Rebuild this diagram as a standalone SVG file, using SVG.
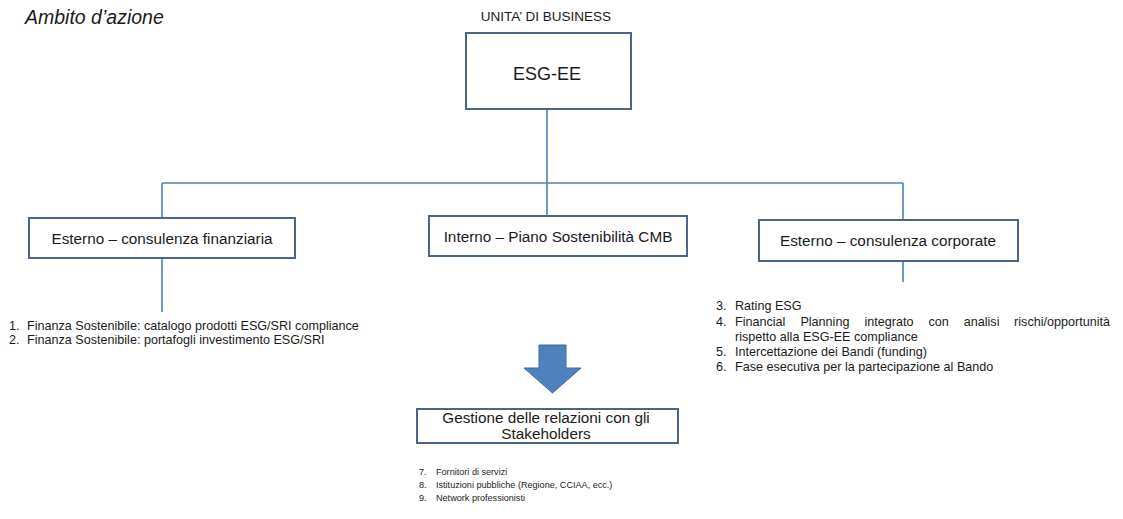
<svg xmlns="http://www.w3.org/2000/svg" width="1123" height="519" viewBox="0 0 1123 519">
<style>
.bg{fill:#ffffff}
.box{fill:#ffffff;stroke:#4d6584;stroke-width:2}
.con{stroke:#4f81bd;stroke-width:1.6;fill:none}
text{font-family:"Liberation Sans",Arial,sans-serif;fill:#1a1a1a}
.lbl{font-size:15.3px;text-anchor:middle}
.li{font-size:12.6px}
.lis{font-size:9.1px}
</style>
<rect class="bg" x="0" y="0" width="1123" height="519"/>
<text x="25" y="24" style="font-size:19.5px;font-style:italic">Ambito d’azione</text>
<text x="546" y="21" style="font-size:13.5px;text-anchor:middle">UNITA’ DI BUSINESS</text>
<g id="connectors">
<path class="con" d="M547,109 V183 M162,183 H903 M162,183 V218 M547,183 V216 M903,183 V220 M162,258 V312 M903,261 V282"/>
</g>
<g id="esg">
<rect class="box" x="466" y="33" width="165" height="76"/>
<text x="547" y="80" style="font-size:18px;text-anchor:middle">ESG-EE</text>
</g>
<g id="finanziaria">
<rect class="box" x="29" y="218" width="266" height="40"/>
<text class="lbl" x="162" y="243.5">Esterno – consulenza finanziaria</text>
</g>
<g id="interno">
<rect class="box" x="429" y="216" width="258" height="40"/>
<text class="lbl" x="558" y="241.5">Interno – Piano Sostenibilità CMB</text>
</g>
<g id="corporate">
<rect class="box" x="759" y="220" width="259" height="41"/>
<text class="lbl" x="888" y="245.5">Esterno – consulenza corporate</text>
</g>
<g id="list-left">
<text class="li" x="9" y="330">1.</text><text class="li" x="27" y="330">Finanza Sostenibile: catalogo prodotti ESG/SRI compliance</text>
<text class="li" x="9" y="344">2.</text><text class="li" x="27" y="344">Finanza Sostenibile: portafogli investimento ESG/SRI</text>
</g>
<g id="list-right">
<text class="li" x="716" y="310">3.</text><text class="li" x="735" y="310">Rating ESG</text>
<text class="li" x="716" y="326">4.</text>
<text class="li" x="735" y="326" style="word-spacing:11.5px">Financial Planning integrato con analisi</text>
<text class="li" x="1110" y="326" style="text-anchor:end">rischi/opportunità</text>
<text class="li" x="735" y="341">rispetto alla ESG-EE compliance</text>
<text class="li" x="716" y="356">5.</text><text class="li" x="735" y="356">Intercettazione dei Bandi (funding)</text>
<text class="li" x="716" y="371">6.</text><text class="li" x="735" y="371">Fase esecutiva per la partecipazione al Bando</text>
</g>
<g id="arrow">
<path d="M539,345 H566 V368 H581 L552.5,393 L524,368 H539 Z" fill="#4f81bd" stroke="#3c6aa0" stroke-width="1"/>
</g>
<g id="stakeholders">
<rect class="box" x="417" y="409" width="261" height="34"/>
<text class="lbl" x="546" y="423">Gestione delle relazioni con gli</text>
<text class="lbl" x="546" y="438.5">Stakeholders</text>
</g>
<g id="list-center">
<text class="lis" x="419" y="475">7.</text><text class="lis" x="436" y="475">Fornitori di servizi</text>
<text class="lis" x="419" y="488">8.</text><text class="lis" x="436" y="488">Istituzioni pubbliche (Regione, CCIAA, ecc.)</text>
<text class="lis" x="419" y="501">9.</text><text class="lis" x="436" y="501">Network professionisti</text>
</g>
</svg>
